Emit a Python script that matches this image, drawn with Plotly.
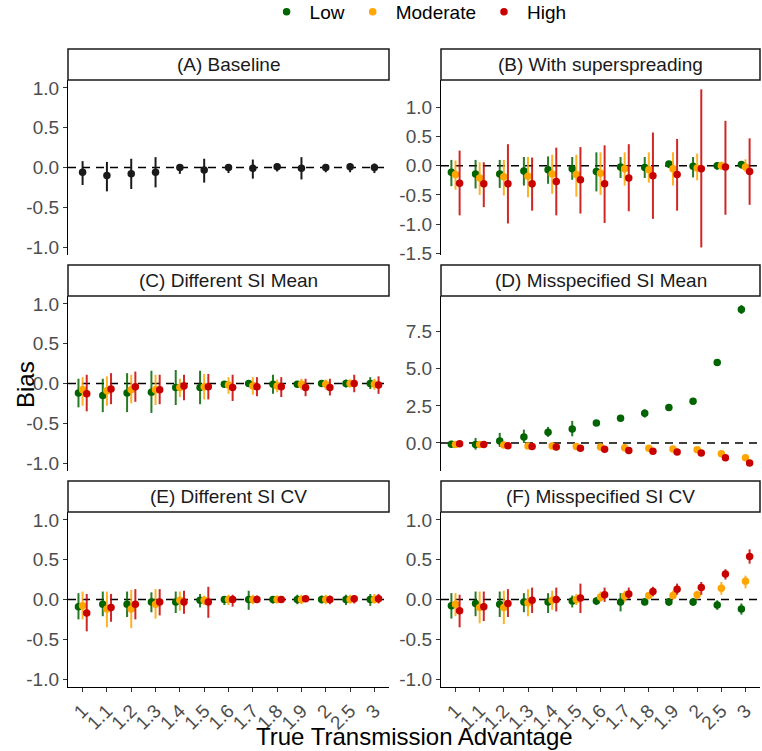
import numpy as np
import plotly.graph_objects as go
from plotly.subplots import make_subplots

categories = ["1", "1.1", "1.2", "1.3", "1.4", "1.5", "1.6", "1.7", "1.8", "1.9", "2", "2.5", "3"]
groups = ["Low", "Moderate", "High"]
panel_titles = ["(A) Baseline", "(B) With superspreading", "(C) Different SI Mean",
                "(D) Misspecified SI Mean", "(E) Different SI CV", "(F) Misspecified SI CV"]

# (A) Baseline - single series
a_est = [-0.06, -0.10, -0.08, -0.06, 0.0, -0.03, 0.0, -0.01, 0.01, -0.01, 0.0, 0.01, 0.0]
a_lo = [-0.22, -0.30, -0.27, -0.25, -0.08, -0.19, -0.07, -0.14, -0.05, -0.15, -0.06, -0.06, -0.07]
a_hi = [0.08, 0.07, 0.11, 0.13, 0.04, 0.11, 0.04, 0.10, 0.05, 0.13, 0.04, 0.05, 0.05]

# (B) With superspreading
b_low_est = [-0.11, -0.14, -0.14, -0.09, -0.07, -0.05, -0.10, -0.02, -0.03, 0.03, -0.01, 0.0, 0.02]
b_low_lo = [-0.35, -0.39, -0.38, -0.34, -0.31, -0.24, -0.44, -0.21, -0.21, -0.04, -0.20, -0.07, -0.05]
b_low_hi = [0.10, 0.10, 0.10, 0.15, 0.16, 0.15, 0.23, 0.15, 0.15, 0.07, 0.15, 0.06, 0.06]
b_mod_est = [-0.15, -0.21, -0.19, -0.18, -0.14, -0.15, -0.13, -0.05, -0.07, -0.05, -0.04, 0.0, -0.02]
b_mod_lo = [-0.41, -0.50, -0.51, -0.54, -0.48, -0.53, -0.50, -0.34, -0.29, -0.34, -0.25, -0.07, -0.11]
b_mod_hi = [0.09, 0.06, 0.10, 0.15, 0.19, 0.19, 0.23, 0.23, 0.23, 0.23, 0.21, 0.07, 0.11]
b_high_est = [-0.30, -0.31, -0.31, -0.31, -0.27, -0.24, -0.31, -0.21, -0.17, -0.15, -0.05, -0.02, -0.10]
b_high_lo = [-0.85, -0.71, -0.99, -0.77, -0.85, -0.82, -0.98, -0.78, -0.91, -0.77, -1.40, -0.84, -0.67]
b_high_hi = [0.26, 0.06, 0.37, 0.14, 0.31, 0.32, 0.35, 0.37, 0.57, 0.46, 1.31, 0.77, 0.47]

# (C) Different SI Mean
c_low_est = [-0.12, -0.15, -0.12, -0.11, -0.05, -0.05, -0.01, 0.0, -0.01, -0.01, 0.0, 0.0, 0.0]
c_low_lo = [-0.30, -0.36, -0.36, -0.37, -0.27, -0.26, -0.04, -0.03, -0.13, -0.04, -0.03, -0.05, -0.07]
c_low_hi = [0.06, 0.06, 0.13, 0.16, 0.17, 0.16, 0.03, 0.03, 0.11, 0.02, 0.03, 0.05, 0.08]
c_mod_est = [-0.08, -0.09, -0.08, -0.08, -0.05, -0.04, -0.02, -0.03, -0.03, -0.01, -0.01, 0.0, -0.01]
c_mod_lo = [-0.28, -0.28, -0.25, -0.27, -0.17, -0.20, -0.13, -0.14, -0.11, -0.08, -0.08, -0.05, -0.08]
c_mod_hi = [0.08, 0.09, 0.11, 0.11, 0.06, 0.12, 0.08, 0.08, 0.05, 0.06, 0.05, 0.05, 0.06]
c_high_est = [-0.13, -0.07, -0.04, -0.08, -0.03, -0.04, -0.05, -0.04, -0.04, -0.05, -0.05, 0.0, -0.02]
c_high_lo = [-0.35, -0.26, -0.23, -0.26, -0.21, -0.20, -0.22, -0.16, -0.17, -0.16, -0.15, -0.11, -0.13]
c_high_hi = [0.11, 0.13, 0.15, 0.11, 0.11, 0.12, 0.11, 0.08, 0.08, 0.06, 0.06, 0.11, 0.09]

# (D) Misspecified SI Mean
d_low_est = [-0.09, -0.11, 0.14, 0.41, 0.72, 0.95, 1.35, 1.67, 2.0, 2.39, 2.82, 5.43, 9.0]
d_low_lo = [-0.27, -0.45, -0.27, 0.0, 0.41, 0.45, 1.25, 1.55, 1.71, 2.30, 2.72, 5.33, 8.70]
d_low_hi = [0.14, 0.34, 0.68, 0.90, 1.08, 1.49, 1.45, 1.80, 2.27, 2.50, 2.92, 5.53, 9.30]
d_mod_est = [-0.11, -0.11, -0.14, -0.20, -0.20, -0.23, -0.27, -0.32, -0.36, -0.41, -0.45, -0.72, -0.99]
d_mod_lo = [-0.16, -0.16, -0.19, -0.25, -0.25, -0.28, -0.32, -0.37, -0.41, -0.46, -0.50, -0.77, -1.04]
d_mod_hi = [-0.06, -0.06, -0.09, -0.15, -0.15, -0.18, -0.22, -0.27, -0.31, -0.36, -0.40, -0.67, -0.94]
d_high_est = [-0.05, -0.11, -0.18, -0.23, -0.27, -0.36, -0.43, -0.50, -0.56, -0.61, -0.68, -0.99, -1.35]
d_high_lo = [-0.10, -0.16, -0.23, -0.28, -0.32, -0.41, -0.48, -0.55, -0.61, -0.66, -0.73, -1.04, -1.41]
d_high_hi = [0.0, -0.06, -0.13, -0.18, -0.22, -0.31, -0.38, -0.45, -0.51, -0.56, -0.63, -0.94, -1.29]

# (E) Different SI CV
e_low_est = [-0.09, -0.06, -0.06, -0.03, -0.03, -0.01, 0.0, 0.0, 0.0, 0.0, 0.0, 0.0, 0.0]
e_low_lo = [-0.25, -0.21, -0.22, -0.16, -0.17, -0.10, -0.07, -0.13, -0.05, -0.06, -0.05, -0.07, -0.08]
e_low_hi = [0.08, 0.10, 0.10, 0.09, 0.10, 0.07, 0.04, 0.11, 0.04, 0.06, 0.05, 0.06, 0.07]
e_mod_est = [-0.08, -0.12, -0.12, -0.06, -0.01, -0.01, 0.0, 0.0, 0.0, 0.0, 0.0, 0.0, 0.0]
e_mod_lo = [-0.25, -0.35, -0.36, -0.24, -0.14, -0.07, -0.07, -0.06, -0.05, -0.06, -0.06, -0.05, -0.05]
e_mod_hi = [0.10, 0.10, 0.12, 0.13, 0.10, 0.05, 0.06, 0.06, 0.05, 0.06, 0.06, 0.06, 0.07]
e_high_est = [-0.17, -0.10, -0.06, -0.03, -0.03, -0.03, 0.0, 0.0, 0.0, 0.01, 0.0, 0.01, 0.01]
e_high_lo = [-0.40, -0.28, -0.25, -0.20, -0.18, -0.23, -0.09, -0.04, -0.04, -0.03, -0.06, -0.05, -0.05]
e_high_hi = [0.07, 0.07, 0.13, 0.13, 0.11, 0.16, 0.06, 0.05, 0.04, 0.05, 0.05, 0.05, 0.07]

# (F) Misspecified SI CV
f_low_est = [-0.08, -0.05, -0.06, -0.03, -0.03, -0.02, -0.02, -0.03, -0.03, -0.03, -0.03, -0.07, -0.12]
f_low_lo = [-0.24, -0.21, -0.22, -0.16, -0.17, -0.10, -0.07, -0.15, -0.07, -0.08, -0.08, -0.13, -0.19]
f_low_hi = [0.08, 0.10, 0.10, 0.08, 0.08, 0.05, 0.03, 0.08, 0.02, 0.02, 0.02, -0.01, -0.05]
f_mod_est = [-0.06, -0.10, -0.10, -0.04, -0.01, 0.0, 0.03, 0.04, 0.05, 0.05, 0.06, 0.14, 0.23]
f_mod_lo = [-0.21, -0.30, -0.31, -0.21, -0.13, -0.07, -0.03, -0.03, 0.0, 0.0, 0.0, 0.06, 0.14]
f_mod_hi = [0.08, 0.10, 0.11, 0.13, 0.11, 0.07, 0.10, 0.11, 0.09, 0.11, 0.11, 0.22, 0.30]
f_high_est = [-0.14, -0.09, -0.05, -0.01, 0.0, 0.02, 0.06, 0.07, 0.10, 0.13, 0.15, 0.32, 0.54]
f_high_lo = [-0.35, -0.27, -0.22, -0.17, -0.15, -0.17, -0.03, 0.01, 0.04, 0.06, 0.06, 0.25, 0.45]
f_high_hi = [0.06, 0.10, 0.13, 0.15, 0.15, 0.20, 0.15, 0.15, 0.16, 0.20, 0.22, 0.38, 0.63]

y_ticks_std = [-1.0, -0.5, 0.0, 0.5, 1.0]
y_ticks_b = [-1.5, -1.0, -0.5, 0.0, 0.5, 1.0]
y_ticks_d = [0.0, 2.5, 5.0, 7.5]

colors = {"Low": "#006400", "Moderate": "#FFA500", "High": "#C80000"}
err_colors = {"Low": "rgba(0,100,0,0.85)", "Moderate": "rgba(255,165,0,0.85)", "High": "rgba(200,0,0,0.85)"}
offsets = {"Low": -0.17, "Moderate": 0.0, "High": 0.17}

W, H = 762, 751
FONT = "Liberation Sans, Arial, sans-serif"

# pixel geometry of the facets
col_px = [(68, 389), (441, 760)]
row_px = [(80, 255), (296, 471), (512, 687)]
strip_h = 31

fig = make_subplots(rows=3, cols=2)

xpos = np.arange(len(categories))


def add_series(row, col, est, lo, hi, name, color, ecolor, dx, show):
    est = np.array(est)
    fig.add_trace(go.Scatter(
        x=xpos + dx, y=est,
        mode='markers',
        name=name,
        legendgroup=name,
        showlegend=show,
        marker=dict(color=color, size=7.5),
        error_y=dict(type='data', symmetric=False,
                     array=np.array(hi) - est, arrayminus=est - np.array(lo),
                     color=ecolor, thickness=2, width=0),
        hoverinfo='skip'
    ), row=row, col=col)


add_series(1, 1, a_est, a_lo, a_hi, "Baseline", "#1a1a1a", "#1a1a1a", 0.0, False)

panels = [
    (1, 2, [(b_low_est, b_low_lo, b_low_hi), (b_mod_est, b_mod_lo, b_mod_hi), (b_high_est, b_high_lo, b_high_hi)]),
    (2, 1, [(c_low_est, c_low_lo, c_low_hi), (c_mod_est, c_mod_lo, c_mod_hi), (c_high_est, c_high_lo, c_high_hi)]),
    (2, 2, [(d_low_est, d_low_lo, d_low_hi), (d_mod_est, d_mod_lo, d_mod_hi), (d_high_est, d_high_lo, d_high_hi)]),
    (3, 1, [(e_low_est, e_low_lo, e_low_hi), (e_mod_est, e_mod_lo, e_mod_hi), (e_high_est, e_high_lo, e_high_hi)]),
    (3, 2, [(f_low_est, f_low_lo, f_low_hi), (f_mod_est, f_mod_lo, f_mod_hi), (f_high_est, f_high_lo, f_high_hi)]),
]
for k, (r, c, series) in enumerate(panels):
    for g, (est, lo, hi) in zip(groups, series):
        add_series(r, c, est, lo, hi, g, colors[g], err_colors[g], offsets[g], k == 0)

y_ranges = {(1, 1): [-1.1, 1.1], (1, 2): [-1.53, 1.47], (2, 1): [-1.1, 1.1],
            (2, 2): [-1.89, 9.91], (3, 1): [-1.1, 1.1], (3, 2): [-1.1, 1.1]}
y_tickvals = {(1, 2): y_ticks_b, (2, 2): y_ticks_d}


def fmt(v):
    return f"{v:.1f}"


shapes = []
annotations = []
for r in range(1, 4):
    for c in range(1, 3):
        x0, x1 = col_px[c - 1]
        ytop, ybot = row_px[r - 1]
        xd = [x0 / W, x1 / W]
        yd = [1 - ybot / H, 1 - ytop / H]
        tv = y_tickvals.get((r, c), y_ticks_std)
        bottom = r == 3
        fig.update_xaxes(row=r, col=c, domain=xd, range=[-0.6, 12.6],
                         tickvals=list(xpos), ticktext=categories,
                         showticklabels=bottom, ticks='outside' if bottom else '',
                         ticklen=4, tickwidth=1.2, tickcolor='#333333',
                         tickangle=-45, tickfont=dict(size=19, color='#4D4D4D', family=FONT),
                         showline=bottom, linecolor='black', linewidth=1.3,
                         showgrid=False, zeroline=False, automargin=False)
        fig.update_yaxes(row=r, col=c, domain=yd, range=y_ranges[(r, c)],
                         tickvals=tv, ticktext=[fmt(v) for v in tv],
                         ticks='outside', ticklen=4, tickwidth=1.2, tickcolor='#333333',
                         tickfont=dict(size=19, color='#4D4D4D', family=FONT),
                         showline=True, linecolor='black', linewidth=1.3,
                         showgrid=False, zeroline=False, automargin=False)
        # strip
        idx = (r - 1) * 2 + c
        shapes.append(dict(type='rect', xref='paper', yref='paper',
                           x0=x0 / W, x1=x1 / W, y0=1 - ytop / H, y1=1 - (ytop - strip_h) / H,
                           line=dict(color='#1a1a1a', width=1.5), fillcolor='white', layer='above'))
        annotations.append(dict(text=panel_titles[idx - 1], xref='paper', yref='paper',
                                x=(x0 + x1) / 2 / W, y=1 - (ytop - strip_h / 2) / H,
                                showarrow=False, xanchor='center', yanchor='middle',
                                font=dict(size=19, color='#1A1A1A', family=FONT)))
        # dashed reference line at zero
        xa = 'x' if idx == 1 else f'x{idx}'
        ya = 'y' if idx == 1 else f'y{idx}'
        shapes.append(dict(type='line', xref=f'{xa} domain', yref=ya, x0=0, x1=1, y0=0, y1=0,
                           line=dict(color='black', width=1.5, dash='8px,6px'), layer='below'))

annotations.append(dict(text="Bias", xref='paper', yref='paper', x=25 / W, y=1 - 385 / H,
                        textangle=-90, showarrow=False, xanchor='center', yanchor='middle',
                        font=dict(size=24, color='black', family=FONT)))
annotations.append(dict(text="True Transmission Advantage", xref='paper', yref='paper',
                        x=414 / W, y=1 - 736 / H, showarrow=False, xanchor='center', yanchor='middle',
                        font=dict(size=24, color='black', family=FONT)))

fig.update_layout(
    width=W, height=H,
    margin=dict(l=0, r=0, t=0, b=0, autoexpand=False),
    plot_bgcolor='white', paper_bgcolor='white',
    shapes=shapes, annotations=annotations,
    showlegend=True,
    legend=dict(orientation='h', x=0.548, xanchor='center', y=1 - 12 / H, yanchor='middle',
                font=dict(size=19, color='black', family=FONT), itemwidth=36,
                bgcolor='rgba(0,0,0,0)'),
    font=dict(family=FONT)
)

fig.write_html("out.html", config={'displayModeBar': False},
               post_script="document.body.style.margin='0';")
